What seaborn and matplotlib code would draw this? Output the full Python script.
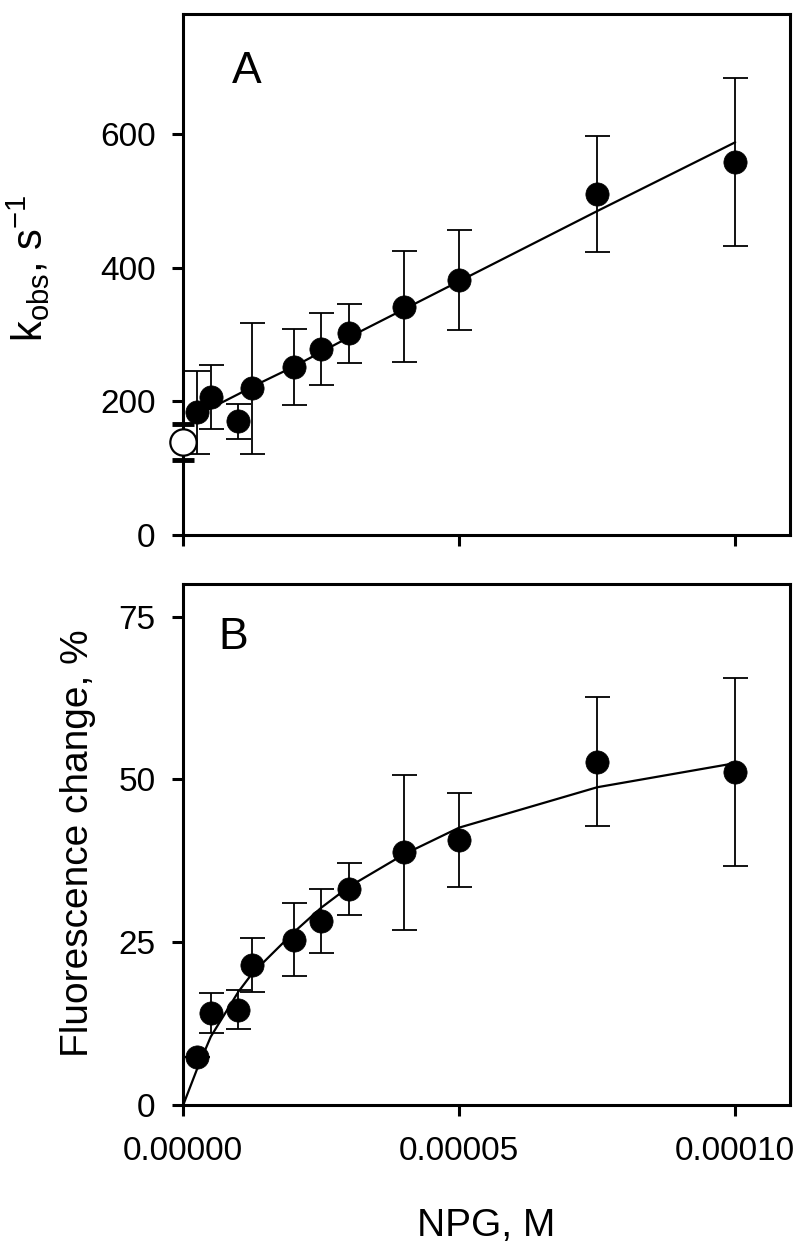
import numpy as np
import pandas as pd
import matplotlib
matplotlib.use("Agg")
import matplotlib.pyplot as plt
import seaborn as sn

# NPG concentration, M
npg = [2.5e-6, 5e-6, 1e-5, 1.25e-5, 2e-5, 2.5e-5, 3e-5, 4e-5, 5e-5, 7.5e-5, 1e-4]

# panel A: observed rate constant, s-1
kobs = [184, 206, 170, 220, 251, 279, 302, 342, 382, 510, 559]
kobs_err = [62, 48, 26, 98, 57, 54, 44, 83, 75, 87, 126]
kobs_fit = [178, 190, 211, 222, 252, 274, 296, 338, 380, 485, 588]
# open circle at zero NPG
k0_x = [0.0]
k0 = [139]
k0_err = [27]

# panel B: fluorescence change, %
fluo = [7.3, 14.1, 14.6, 21.5, 25.4, 28.2, 33.2, 38.8, 40.7, 52.7, 51.1]
fluo_err = [0.0, 3.1, 3.0, 4.2, 5.6, 4.9, 4.0, 11.9, 7.2, 9.9, 14.4]
fit_x = [0.0] + npg
fluo_fit = [0.0, 5.5, 10.5, 17.4, 20.2, 26.5, 30.3, 33.5, 38.5, 42.6, 48.8, 52.5]

sn.set_theme(style="ticks")
plt.rcParams["font.family"] = ["Liberation Sans", "DejaVu Sans"]
plt.rcParams["mathtext.default"] = "regular"
plt.rcParams["text.color"] = "black"
plt.rcParams["axes.labelcolor"] = "black"

fig = plt.figure(figsize=(8, 12.55), dpi=100)
axA = fig.add_axes([0.229, 0.5737, 0.759, 0.4151])
axB = fig.add_axes([0.229, 0.1195, 0.759, 0.4151])

dfA = pd.DataFrame({"x": npg, "y": kobs, "err": kobs_err, "fit": kobs_fit})
dfB = pd.DataFrame({"x": npg, "y": fluo, "err": fluo_err})
dfB_fit = pd.DataFrame({"x": fit_x, "fit": fluo_fit})

# Panel A
axA.errorbar(dfA["x"], dfA["y"], yerr=dfA["err"], fmt="none", ecolor="black",
             elinewidth=1.3, capsize=9, capthick=1.3, zorder=2)
axA.errorbar(k0_x, k0, yerr=k0_err, fmt="none", ecolor="black",
             elinewidth=1.3, capsize=8, capthick=3.5, zorder=2, clip_on=False)
sn.lineplot(data=dfA, x="x", y="fit", color="black", linewidth=1.6,
            estimator=None, sort=False, ax=axA, zorder=3)
sn.scatterplot(data=dfA, x="x", y="y", color="black", s=280, edgecolor="black",
               linewidth=0.5, ax=axA, zorder=4)
axA.scatter(k0_x, k0, s=360, facecolor="white", edgecolor="black",
            linewidth=1.6, zorder=5, clip_on=False)

axA.set_xlim(0, 0.00011)
axA.set_ylim(0, 780)
axA.set_yticks([0, 200, 400, 600])
axA.set_xticks([0, 0.00005, 0.0001])
axA.set_xticklabels([])
axA.set_xlabel("")
axA.set_ylabel("")
axA.text(0.104, 0.89, "A", transform=axA.transAxes, fontsize=32,
         ha="center", va="center", color="black")

# Panel B
axB.errorbar(dfB["x"], dfB["y"], yerr=dfB["err"], fmt="none", ecolor="black",
             elinewidth=1.3, capsize=9, capthick=1.3, zorder=2)
sn.lineplot(data=dfB_fit, x="x", y="fit", color="black", linewidth=1.6,
            estimator=None, sort=False, ax=axB, zorder=3)
sn.scatterplot(data=dfB, x="x", y="y", color="black", s=280, edgecolor="black",
               linewidth=0.5, ax=axB, zorder=4)

axB.set_xlim(0, 0.00011)
axB.set_ylim(0, 80)
axB.set_yticks([0, 25, 50, 75])
axB.set_xticks([0, 0.00005, 0.0001])
axB.set_xticklabels(["0.00000", "0.00005", "0.00010"])
axB.set_xlabel("")
axB.set_ylabel("")
axB.text(0.082, 0.898, "B", transform=axB.transAxes, fontsize=32,
         ha="center", va="center", color="black")

for ax in (axA, axB):
    for sp in ax.spines.values():
        sp.set_linewidth(2.2)
        sp.set_color("black")
    ax.tick_params(direction="out", length=8, width=2.2, labelsize=24,
                   color="black", labelcolor="black")
    ax.tick_params(axis="y", pad=12)
    ax.tick_params(axis="x", pad=14)

fig.text(0.036, 0.786, "k$_{obs}$, s$^{-1}$", rotation=90, fontsize=30,
         ha="center", va="center", color="black")
fig.text(0.0975, 0.328, "Fluorescence change, %", rotation=90, fontsize=28,
         ha="center", va="center", color="black")
fig.text(0.608, 0.023, "NPG, M", fontsize=28, ha="center", va="center",
         color="black")

fig.savefig("out.png", dpi=100, facecolor="white")
